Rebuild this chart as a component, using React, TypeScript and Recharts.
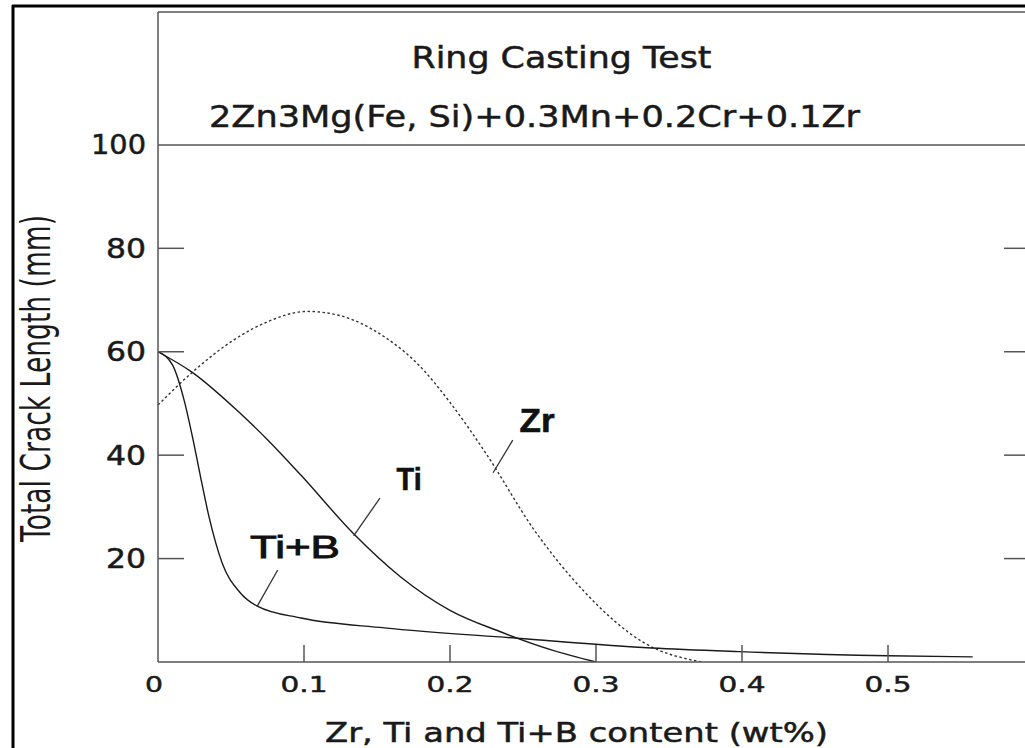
import React from 'react';
import { LineChart, Line, XAxis, YAxis, ReferenceLine, ReferenceDot } from 'recharts';

// ---- data ----
const xTicks = [0, 0.1, 0.2, 0.3, 0.4, 0.5];
const yTicks = [20, 40, 60, 80, 100];

const zrX = [0, 0.023, 0.052, 0.075, 0.102, 0.123, 0.155, 0.178, 0.2, 0.224, 0.258, 0.292, 0.333, 0.372];
const zrY = [49.7, 55.9, 62.3, 65.8, 67.8, 67.1, 62.9, 57.6, 50.2, 40.6, 25.4, 13.6, 3.7, 0];

const tiX = [0, 0.023, 0.057, 0.075, 0.098, 0.134, 0.166, 0.2, 0.235, 0.27, 0.3];
const tiY = [60, 56.1, 47.9, 43.0, 36.1, 24.8, 16.5, 10, 5.8, 2.3, 0];

const tibX = [0, 0.01, 0.018, 0.024, 0.029, 0.035, 0.044, 0.056, 0.068, 0.098, 0.155, 0.246, 0.338, 0.398, 0.5, 0.558];
const tibY = [60, 57.4, 50.5, 43, 36, 28, 19.1, 13.5, 10.8, 8.5, 6.6, 4.6, 2.7, 2.0, 1.2, 1.0];

const seriesNames = ['Zr', 'Ti', 'Ti+B'];
// label anchor (baseline centre) and leader line ends, in data units
const labelPos = [
  { x: 0.2596, y: 44.5 },
  { x: 0.172, y: 33.3 },
  { x: 0.0938, y: 20.1 },
];
const leaderLines = [
  [{ x: 0.243, y: 42.9 }, { x: 0.2295, y: 36.6 }],
  [{ x: 0.152, y: 31.7 }, { x: 0.134, y: 24.4 }],
  [{ x: 0.082, y: 17.8 }, { x: 0.068, y: 10.8 }],
];

const title = 'Ring Casting Test';
const subtitle = '2Zn3Mg(Fe, Si)+0.3Mn+0.2Cr+0.1Zr';
const xLabel = 'Zr, Ti and Ti+B content (wt%)';
const yLabel = 'Total Crack Length (mm)';

const toPts = (xs: number[], ys: number[]) => xs.map((x, i) => ({ x, y: ys[i] }));
const zrData = toPts(zrX, zrY);
const tiData = toPts(tiX, tiY);
const tibData = toPts(tibX, tibY);

// ---- layout ----
const W = 1040;
const H = 748;
const PLOT_L = 158;
const PLOT_R = 1034;
const PLOT_T = 12;
const PLOT_B = 662;
const YAXIS_W = 60;
const XAXIS_H = 30;
const YMAX = 125.7;
const FONT = '"DejaVu Sans", sans-serif';
const LFONT = '"Liberation Sans", Arial, sans-serif';
const INK = '#1a1a1a';
const AXIS = '#555';
const THICK = { stroke: INK, strokeWidth: 0.5 };

const YTick = (props: any) => {
  const { y, payload } = props;
  const v = payload.value as number;
  const s = String(v);
  return (
    <g>
      <text x={PLOT_L - 12} y={y + 9.5} textAnchor="end" fontFamily={FONT} fontSize={26}
        textLength={s.length === 3 ? 55 : 40} lengthAdjust="spacingAndGlyphs" fill={INK} {...THICK}>{s}</text>
      {v < 100 && <line x1={PLOT_L} x2={PLOT_L + 26} y1={y} y2={y} stroke={AXIS} strokeWidth={1.5} />}
      {v < 100 && <line x1={PLOT_R} x2={PLOT_R - 30} y1={y} y2={y} stroke={AXIS} strokeWidth={1.5} />}
    </g>
  );
};

const XTick = (props: any) => {
  const { x, payload } = props;
  const v = payload.value as number;
  const s = v === 0 ? '0' : v.toFixed(1);
  return (
    <g>
      <text x={v === 0 ? x - 4 : x} y={PLOT_B + 30} textAnchor="middle" fontFamily={FONT} fontSize={22}
        textLength={s.length === 1 ? 18 : 47} lengthAdjust="spacingAndGlyphs" fill={INK} {...THICK}>{s}</text>
      {v > 0 && <line x1={x} x2={x} y1={PLOT_B} y2={PLOT_B - 17} stroke={AXIS} strokeWidth={1.5} />}
    </g>
  );
};

const labelStyles = [
  { size: 33, weight: 700, len: 35, sw: 0.6 },
  { size: 32, weight: 700, len: 25, sw: 0.6 },
  { size: 31, weight: 400, len: 90, sw: 0.9 },
];

export default function App() {
  return (
    <div style={{ position: 'absolute', left: 0, top: 0, width: 1025, height: 748, overflow: 'hidden', background: '#fff' }}>
      <div style={{ position: 'absolute', left: 0, top: 0 }}>
        <LineChart width={W} height={H}
          margin={{ top: PLOT_T, left: PLOT_L - YAXIS_W, right: W - PLOT_R, bottom: H - PLOT_B - XAXIS_H }}>
          <XAxis type="number" dataKey="x" domain={[0, 0.6]} ticks={xTicks} height={XAXIS_H}
            axisLine={{ stroke: AXIS, strokeWidth: 1.5 }} tickLine={false} tickSize={0} tickMargin={0}
            tick={<XTick />} interval={0} allowDecimals />
          <YAxis type="number" domain={[0, YMAX]} ticks={yTicks} width={YAXIS_W}
            axisLine={{ stroke: AXIS, strokeWidth: 1.5 }} tickLine={false} tickSize={0} tickMargin={12}
            tick={<YTick />} interval={0} allowDataOverflow />
          <ReferenceLine y={100} stroke={AXIS} strokeWidth={1.5} />
          <ReferenceLine y={YMAX} stroke={AXIS} strokeWidth={1.5} />
          <Line data={zrData} dataKey="y" type="monotone" stroke="#333" strokeWidth={1.4}
            strokeDasharray="2.5 2.5" dot={false} isAnimationActive={false} name={seriesNames[0]} />
          <Line data={tiData} dataKey="y" type="monotone" stroke={INK} strokeWidth={1.4}
            dot={false} isAnimationActive={false} name={seriesNames[1]} />
          <Line data={tibData} dataKey="y" type="monotone" stroke={INK} strokeWidth={1.4}
            dot={false} isAnimationActive={false} name={seriesNames[2]} />
          {leaderLines.map((seg, i) => (
            <ReferenceLine key={'l' + i} segment={seg} stroke="#333" strokeWidth={1.3} />
          ))}
          {labelPos.map((p, i) => (
            <ReferenceDot key={'t' + i} x={p.x} y={p.y} r={0}
              shape={(sp: any) => (
                <text x={sp.cx} y={sp.cy} textAnchor="middle" fontFamily={LFONT}
                  fontSize={labelStyles[i].size} fontWeight={labelStyles[i].weight}
                  textLength={labelStyles[i].len} lengthAdjust="spacingAndGlyphs" fill="#111"
                  stroke="#111" strokeWidth={labelStyles[i].sw}>
                  {seriesNames[i]}
                </text>
              )} />
          ))}
        </LineChart>
      </div>
      <svg width={1025} height={748} style={{ position: 'absolute', left: 0, top: 0, pointerEvents: 'none' }}>
        <line x1={13} x2={13} y1={5} y2={748} stroke="#000" strokeWidth={3} />
        <line x1={12} x2={1025} y1={6} y2={6} stroke="#000" strokeWidth={3} />
        <text x={561.5} y={68} textAnchor="middle" fontFamily={FONT} fontSize={30}
          textLength={300} lengthAdjust="spacingAndGlyphs" fill={INK} {...THICK}>{title}</text>
        <text x={209} y={127} fontFamily={FONT} fontSize={31}
          textLength={651} lengthAdjust="spacingAndGlyphs" fill={INK} {...THICK}>{subtitle}</text>
        <text x={325} y={742} fontFamily={FONT} fontSize={27}
          textLength={503} lengthAdjust="spacingAndGlyphs" fill={INK} {...THICK}>{xLabel}</text>
        <text x={50} y={378.5} textAnchor="middle" fontFamily={FONT} fontSize={40}
          transform="rotate(-90 50 378.5)" textLength={327} lengthAdjust="spacingAndGlyphs" fill={INK}>{yLabel}</text>
      </svg>
    </div>
  );
}
